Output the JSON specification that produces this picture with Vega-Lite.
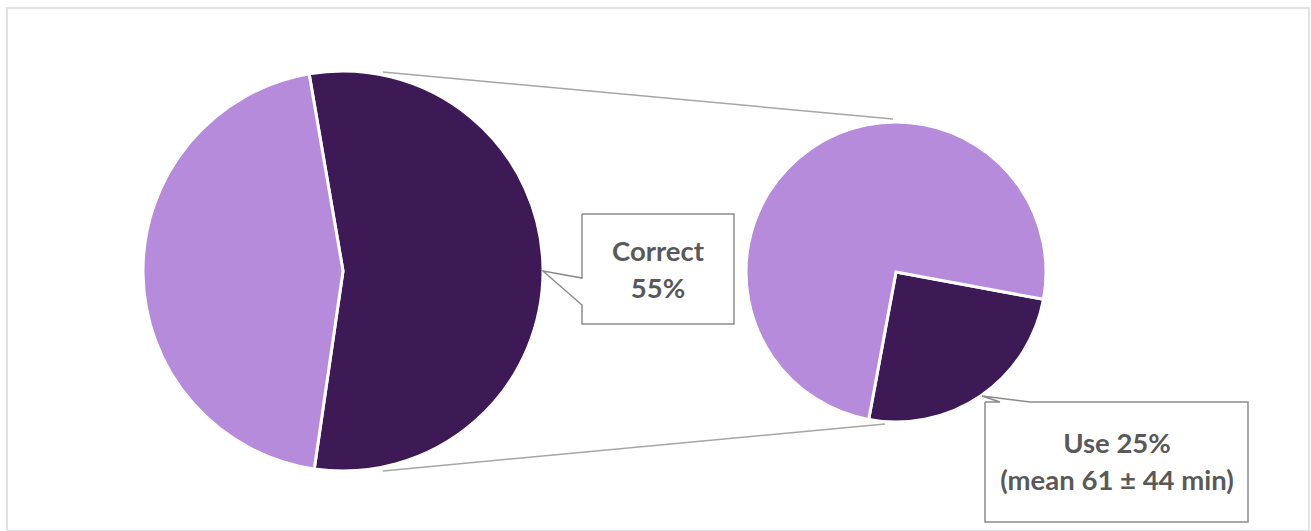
{
  "$schema": "https://vega.github.io/schema/vega-lite/v6.json",
  "width": 1311,
  "height": 531,
  "autosize": {"type": "fit", "contains": "padding"},
  "padding": {"left": 7, "top": 8, "right": 2, "bottom": 0},
  "background": "white",
  "config": {"view": {"stroke": "#D9D9D9", "strokeWidth": 1.5}},
  "datasets": {
    "pies": [
      {"pie": "left", "cat": "Correct", "pct": 55, "k": 1, "cx": 343, "cy": 271},
      {"pie": "left", "cat": "Incorrect", "pct": 45, "k": 2, "cx": 343, "cy": 271},
      {"pie": "right", "cat": "Use", "pct": 25, "k": 1, "cx": 896, "cy": 272},
      {"pie": "right", "cat": "No use", "pct": 75, "k": 2, "cx": 896, "cy": 272}
    ],
    "connectors": [
      {"x": 383, "y": 72, "x2": 893, "y2": 119},
      {"x": 383, "y": 471, "x2": 885, "y2": 424}
    ],
    "callouts": [
      {"c": "a", "i": 1, "x": 582, "y": 214},
      {"c": "a", "i": 2, "x": 734, "y": 214},
      {"c": "a", "i": 3, "x": 734, "y": 324},
      {"c": "a", "i": 4, "x": 582, "y": 324},
      {"c": "a", "i": 5, "x": 582, "y": 305},
      {"c": "a", "i": 6, "x": 543, "y": 271},
      {"c": "a", "i": 7, "x": 582, "y": 278},
      {"c": "a", "i": 8, "x": 582, "y": 214},
      {"c": "b", "i": 1, "x": 985, "y": 402},
      {"c": "b", "i": 2, "x": 1000, "y": 402},
      {"c": "b", "i": 3, "x": 982, "y": 396},
      {"c": "b", "i": 4, "x": 1030, "y": 402},
      {"c": "b", "i": 5, "x": 1248, "y": 402},
      {"c": "b", "i": 6, "x": 1248, "y": 522},
      {"c": "b", "i": 7, "x": 985, "y": 522},
      {"c": "b", "i": 8, "x": 985, "y": 402}
    ],
    "labels": [
      {"t": "Correct", "x": 658, "y": 253},
      {"t": "55%", "x": 658, "y": 290},
      {"t": "Use 25%", "x": 1117, "y": 445},
      {"t": "(mean 61 ± 44 min)", "x": 1117, "y": 482}
    ]
  },
  "layer": [
    {
      "data": {"name": "connectors"},
      "mark": {"type": "rule", "color": "#A6A6A6", "strokeWidth": 1.5},
      "encoding": {
        "x": {"field": "x", "type": "quantitative", "scale": {"domain": [7, 1309], "nice": false, "zero": false}, "axis": null},
        "y": {"field": "y", "type": "quantitative", "scale": {"domain": [8, 531], "nice": false, "zero": false, "reverse": true}, "axis": null},
        "x2": {"field": "x2"},
        "y2": {"field": "y2"}
      }
    },
    {
      "data": {"name": "pies"},
      "transform": [{"filter": "datum.pie === 'left'"}],
      "mark": {"type": "arc", "outerRadius": 200, "stroke": "white", "strokeWidth": 3},
      "encoding": {
        "x": {"field": "cx", "type": "quantitative"},
        "y": {"field": "cy", "type": "quantitative"},
        "theta": {"field": "pct", "type": "quantitative", "stack": true, "scale": {"range": [-0.17, 6.1132]}},
        "order": {"field": "k"},
        "color": {"field": "cat", "type": "nominal", "legend": null,
          "scale": {"domain": ["Correct", "Incorrect", "Use", "No use"], "range": ["#3D1A56", "#B68BDB", "#3D1A56", "#B68BDB"]}}
      }
    },
    {
      "data": {"name": "pies"},
      "transform": [{"filter": "datum.pie === 'right'"}],
      "mark": {"type": "arc", "outerRadius": 150, "stroke": "white", "strokeWidth": 3},
      "encoding": {
        "x": {"field": "cx", "type": "quantitative"},
        "y": {"field": "cy", "type": "quantitative"},
        "theta": {"field": "pct", "type": "quantitative", "stack": true, "scale": {"range": [1.754, 8.037]}},
        "order": {"field": "k"},
        "color": {"field": "cat", "type": "nominal", "legend": null}
      }
    },
    {
      "data": {"name": "callouts"},
      "mark": {"type": "line", "color": "#8C8C8C", "strokeWidth": 1.5, "strokeJoin": "miter"},
      "encoding": {
        "x": {"field": "x", "type": "quantitative"},
        "y": {"field": "y", "type": "quantitative"},
        "detail": {"field": "c"},
        "order": {"field": "i"}
      }
    },
    {
      "data": {"name": "labels"},
      "mark": {"type": "text", "font": "Lato", "fontWeight": "bold", "fontSize": 27.5, "color": "#595959", "align": "center", "baseline": "middle"},
      "encoding": {
        "x": {"field": "x", "type": "quantitative"},
        "y": {"field": "y", "type": "quantitative"},
        "text": {"field": "t"}
      }
    }
  ],
  "resolve": {"scale": {"theta": "independent"}}
}
